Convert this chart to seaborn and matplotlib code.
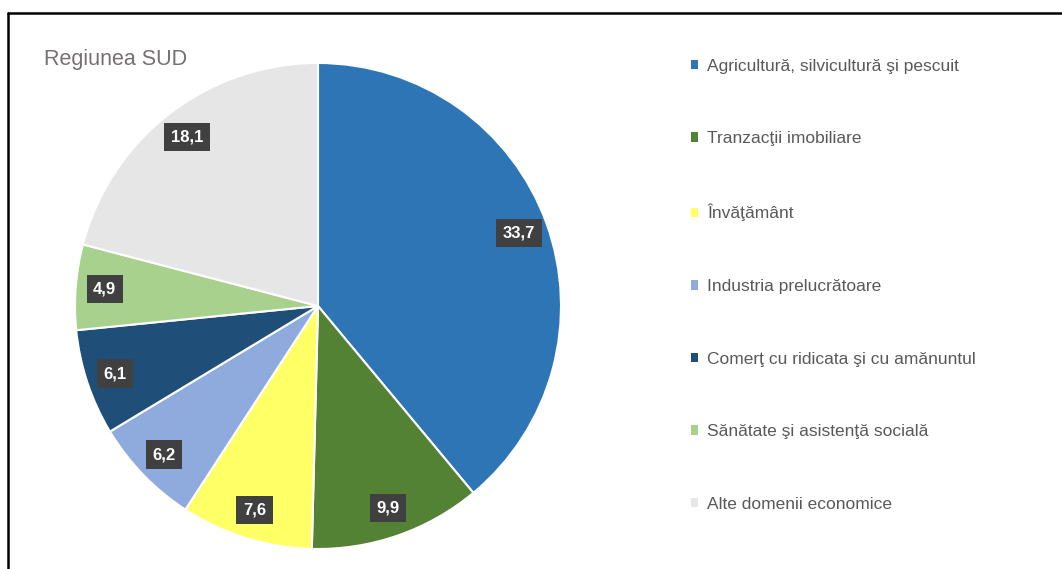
import matplotlib
matplotlib.use("Agg")
import matplotlib.pyplot as plt
from matplotlib.patches import Patch
from matplotlib.lines import Line2D
import numpy as np
import seaborn as sns

# data
categories = [
    "Agricultură, silvicultură şi pescuit",
    "Tranzacţii imobiliare",
    "Învăţământ",
    "Industria prelucrătoare",
    "Comerţ cu ridicata şi cu amănuntul",
    "Sănătate şi asistenţă socială",
    "Alte domenii economice",
]
values = [33.7, 9.9, 7.6, 6.2, 6.1, 4.9, 18.1]
value_labels = ["33,7", "9,9", "7,6", "6,2", "6,1", "4,9", "18,1"]
colors = ["#2E75B6", "#548235", "#FFFF66", "#8FAADC", "#1F4E79", "#A9D18E", "#E7E6E6"]
title = "Regiunea SUD"

sns.set_theme(style="white")
plt.rcParams["font.family"] = ["Liberation Sans", "DejaVu Sans"]

W, H = 1062, 569
fig = plt.figure(figsize=(W / 100, H / 100), dpi=100)

# pie centred at (318, 306) px, radius 243 px
cx, cy, r = 318, 306, 243
ax = fig.add_axes([(cx - r) / W, (H - cy - r) / H, 2 * r / W, 2 * r / H])
wedges, _ = ax.pie(values, colors=colors, startangle=90, counterclock=False,
                   radius=1, wedgeprops=dict(edgecolor="white", linewidth=1.5))
ax.set_xlim(-1, 1)
ax.set_ylim(-1, 1)
ax.set_aspect("equal")
ax.axis("off")

# value labels in dark boxes
total = sum(values)
cum = 0
for v, lab in zip(values, value_labels):
    mid = 90 - 360 * (cum + v / 2) / total
    cum += v
    d = 0.88
    x, y = d * np.cos(np.radians(mid)), d * np.sin(np.radians(mid))
    ax.text(x, y, lab, ha="center", va="center", color="white", fontsize=12,
            fontweight="bold",
            bbox=dict(boxstyle="square,pad=0.4", facecolor="#404040", edgecolor="none"))

# title
fig.text(44 / W, 1 - 60 / H, title, fontsize=15.5, color="#767171", ha="left", va="center")

# legend
handles = [Patch(facecolor=c, edgecolor="none") for c in colors]
leg = fig.legend(handles, categories, loc="upper left",
                 bbox_to_anchor=(675 / W, 1 - 43 / H), frameon=False,
                 fontsize=12.5, labelcolor="#595959", handlelength=0.45,
                 handleheight=0.45, handletextpad=0.5, labelspacing=3.32)

# outer frame: top and left lines only
fig.add_artist(Line2D([7.5 / W, 1061 / W], [1 - 12.5 / H, 1 - 12.5 / H], color="black", lw=1.8))
fig.add_artist(Line2D([7.5 / W, 7.5 / W], [0, 1 - 12.5 / H], color="black", lw=1.8))

fig.savefig("out.png", dpi=100, facecolor="white")
